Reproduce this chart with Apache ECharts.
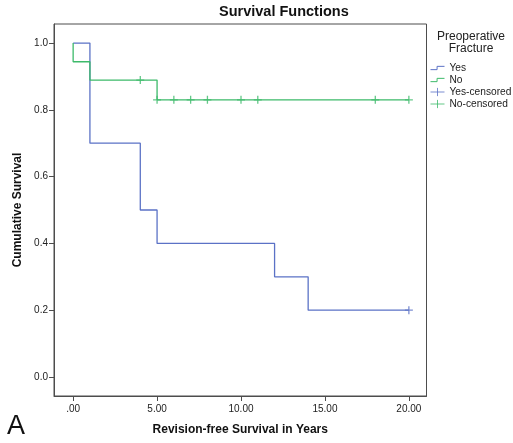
<!DOCTYPE html>
<html>
<head>
<meta charset="utf-8">
<script src="https://cdn.jsdelivr.net/npm/echarts@6/dist/echarts.min.js"></script>
<style>
  html, body { margin: 0; padding: 0; background: #fff; }
  #chart { width: 513px; height: 443px; }
</style>
</head>
<body>
<div id="chart"></div>
<script>
// Kaplan-Meier steps
const yesSteps = [[0, 1], [1, 0.7], [4, 0.5], [5, 0.4], [12, 0.3], [14, 0.2], [20, 0.2]];
const noSteps = [[0, 1], [0, 0.944], [1, 0.889], [5, 0.83], [20, 0.83]];
const yesCensored = [[20, 0.2]];
const noCensored = [[4, 0.889], [5, 0.83], [6, 0.83], [7, 0.83], [8, 0.83], [10, 0.83], [11, 0.83], [18, 0.83], [20, 0.83]];

const xTicks = [0, 5, 10, 15, 20];
const xTickLabels = ['.00', '5.00', '10.00', '15.00', '20.00'];
const yTicks = [0, 0.2, 0.4, 0.6, 0.8, 1.0];
const yTickLabels = ['0.0', '0.2', '0.4', '0.6', '0.8', '1.0'];

const BLUE = '#5b72c6';
const GREEN = '#3dba6a';
const FRAME = '#4d4d4d';
const FONT = 'Liberation Sans, Arial, sans-serif';

const stepIcon = 'path://M0,0 M17,10 M0,7 L8,7 L8,3 L17,3';
const plusIcon = 'path://M0,5 L17,5 M8.5,0 L8.5,10';
const plusMark = 'path://M0,4 L8,4 M4,0 L4,8';

const chart = echarts.init(document.getElementById('chart'));

const labelFmt = (ticks, labels) => (v) => {
  const i = ticks.findIndex((t) => Math.abs(t - v) < 1e-6);
  return i >= 0 ? labels[i] : '';
};

chart.setOption({
  animation: false,
  title: {
    text: 'Survival Functions',
    left: 219,
    top: 4,
    padding: 0,
    textStyle: { fontFamily: FONT, fontSize: 14.5, fontWeight: 'bold', color: '#111' },
  },
  grid: {
    left: 54,
    right: 86.5,
    top: 24,
    bottom: 47,
    show: true,
    borderColor: FRAME,
    borderWidth: 1,
    containLabel: false,
  },
  xAxis: {
    type: 'value',
    min: -1.14,
    max: 21.05,
    name: 'Revision-free Survival in Years',
    nameLocation: 'middle',
    nameGap: 28,
    nameTextStyle: { fontFamily: FONT, fontSize: 12, fontWeight: 'bold', color: '#111' },
    splitLine: { show: false },
    axisLine: { show: true, onZero: false, lineStyle: { color: FRAME, width: 1 } },
    axisTick: { show: true, length: 5, customValues: xTicks, lineStyle: { color: FRAME } },
    axisLabel: {
      customValues: xTicks,
      margin: 8,
      fontFamily: FONT,
      fontSize: 10,
      color: '#222',
      formatter: labelFmt(xTicks, xTickLabels),
    },
  },
  yAxis: {
    type: 'value',
    min: -0.057,
    max: 1.057,
    name: 'Cumulative Survival',
    nameLocation: 'middle',
    nameGap: 29,
    nameTextStyle: { fontFamily: FONT, fontSize: 12, fontWeight: 'bold', color: '#111' },
    splitLine: { show: false },
    axisLine: { show: true, onZero: false, lineStyle: { color: FRAME, width: 1 } },
    axisTick: { show: true, length: 5, customValues: yTicks, lineStyle: { color: FRAME } },
    axisLabel: {
      customValues: yTicks,
      margin: 6,
      fontFamily: FONT,
      fontSize: 10,
      color: '#222',
      formatter: labelFmt(yTicks, yTickLabels),
    },
  },
  legend: {
    orient: 'vertical',
    left: 430,
    top: 63,
    padding: 0,
    itemWidth: 14,
    itemHeight: 10,
    itemGap: 2,
    textStyle: { fontFamily: FONT, fontSize: 10.2, color: '#222', lineHeight: 10 },
    data: [
      { name: 'Yes', icon: stepIcon, itemStyle: { color: 'transparent', borderColor: BLUE, borderWidth: 1 } },
      { name: 'No', icon: stepIcon, itemStyle: { color: 'transparent', borderColor: GREEN, borderWidth: 1 } },
      { name: 'Yes-censored', icon: plusIcon, itemStyle: { color: 'transparent', borderColor: BLUE, borderWidth: 1 } },
      { name: 'No-censored', icon: plusIcon, itemStyle: { color: 'transparent', borderColor: GREEN, borderWidth: 1 } },
    ],
  },
  graphic: [
    {
      type: 'text',
      x: 471,
      y: 30,
      style: {
        text: 'Preoperative\nFracture',
        fontFamily: FONT,
        fontSize: 12,
        lineHeight: 12.5,
        textAlign: 'center',
        fill: '#222',
      },
    },
    {
      type: 'text',
      x: 7,
      y: 413,
      style: { text: 'A', fontFamily: FONT, fontSize: 27, fill: '#111' },
    },
  ],
  series: [
    {
      name: 'Yes',
      type: 'line',
      step: 'end',
      data: yesSteps,
      showSymbol: false,
      symbol: 'none',
      color: BLUE,
      lineStyle: { color: BLUE, width: 1.3 },
    },
    {
      name: 'No',
      type: 'line',
      step: 'end',
      data: noSteps,
      showSymbol: false,
      symbol: 'none',
      color: GREEN,
      lineStyle: { color: GREEN, width: 1.3 },
    },
    {
      name: 'Yes-censored',
      type: 'scatter',
      data: yesCensored,
      symbol: plusMark,
      symbolSize: 8,
      itemStyle: { color: 'transparent', borderColor: BLUE, borderWidth: 1.3 },
    },
    {
      name: 'No-censored',
      type: 'scatter',
      data: noCensored,
      symbol: plusMark,
      symbolSize: 8,
      itemStyle: { color: 'transparent', borderColor: GREEN, borderWidth: 1.3 },
    },
  ],
});
</script>
</body>
</html>
